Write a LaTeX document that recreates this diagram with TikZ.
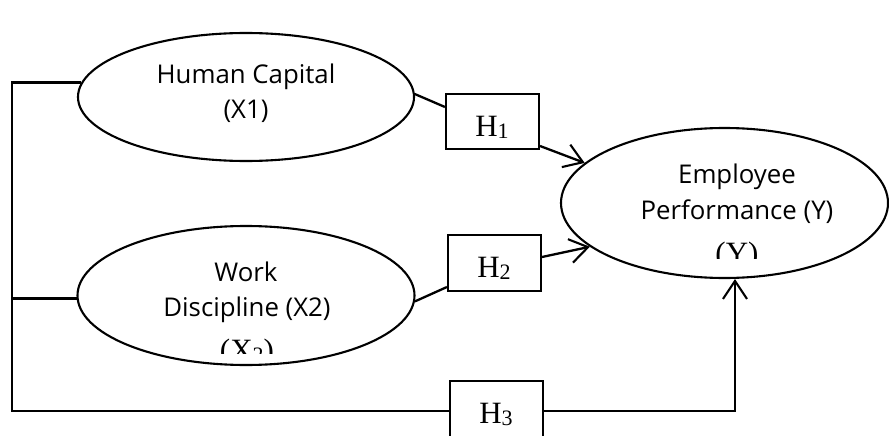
\documentclass[tikz,border=0pt]{standalone}
\usepackage{fontspec}
\setmainfont{Liberation Serif}
\newfontfamily\labelfont{Open Sans}
\usetikzlibrary{shapes.geometric,arrows.meta}
\begin{document}
\begin{tikzpicture}[x=1pt,y=-1pt,
  var/.style={ellipse, draw, line width=2.1pt, inner sep=0pt},
  hbox/.style={draw, rectangle, line width=2.1pt, minimum width=93pt, inner sep=0pt},
  txt/.style={font=\labelfont\fontsize{25.8}{28}\selectfont, anchor=base, inner sep=0pt},
  htxt/.style={font=\fontsize{31}{34}\selectfont, anchor=base, inner sep=0pt},
  conn/.style={line width=2.3pt},
  arr/.style={conn, -{Straight Barb[length=18pt,width=24pt,line width=2.1pt]}}
]
\useasboundingbox (0,0) rectangle (889,436);
\clip (0,0) rectangle (889,436);

% ellipses
\node[var, minimum width=336pt, minimum height=128pt] (hc) at (246,97) {};
\node[var, minimum width=337pt, minimum height=139pt] (wd) at (246,295.5) {};
\node[var, minimum width=327pt, minimum height=150pt] (ep) at (724.5,203) {};

% hypothesis boxes
\node[hbox, minimum height=55pt] (h1) at (492.5,121.5) {};
\node[hbox, minimum height=56pt] (h2) at (494.5,263) {};
\node[hbox, minimum height=60pt] (h3) at (496.5,411) {};

% texts
\node[txt] (t1a) at (246,84) {Human Capital};
\node[txt] (t1b) at (246,118) {(X1)};
\node[txt] (t2a) at (246,281) {Work};
\node[txt] (t2b) at (247,316) {Discipline (X2)};
\node[txt] (t3a) at (737,183) {Employee};
\node[txt] (t3b) at (737,219) {Performance (Y)};

\node[htxt] (l1) at (492,136) {H\raisebox{-2pt}{\fontsize{22}{24}\selectfont 1}};
\node[htxt] (l2) at (494,277) {H\raisebox{-2pt}{\fontsize{22}{24}\selectfont 2}};
\node[htxt] (l3) at (496,423) {H\raisebox{-2pt}{\fontsize{22}{24}\selectfont 3}};

% clipped leftover texts
\begin{scope}
\clip (700,230) rectangle (780,258);
\node[htxt] (t3c) at (737,263) {(Y)};
\end{scope}
\begin{scope}
\clip (200,330) rectangle (300,353);
\node[htxt] (t2c) at (247,360) {(X\raisebox{-2pt}{\fontsize{22}{24}\selectfont 2})};
\end{scope}

% connectors
\coordinate (corner1) at (12,411);
\coordinate (corner2) at (735,411);
\draw[conn] (hc.175) -| (corner1) -- (h3.west);
\draw[conn] (wd.181) -- (wd.181 -| corner1);
\draw[conn] (hc.1) -- ([yshift=14.5pt]h1.west);
\draw[arr] ([yshift=-24.5pt]h1.east) -- (ep.164);
\draw[conn] (wd.-2) -- ([yshift=-24pt]h2.west);
\draw[arr] ([yshift=6pt]h2.east) -- (ep.198);
\draw[arr] (h3.east) -- (corner2) -- (corner2 |- ep.south);
\end{tikzpicture}
\end{document}
